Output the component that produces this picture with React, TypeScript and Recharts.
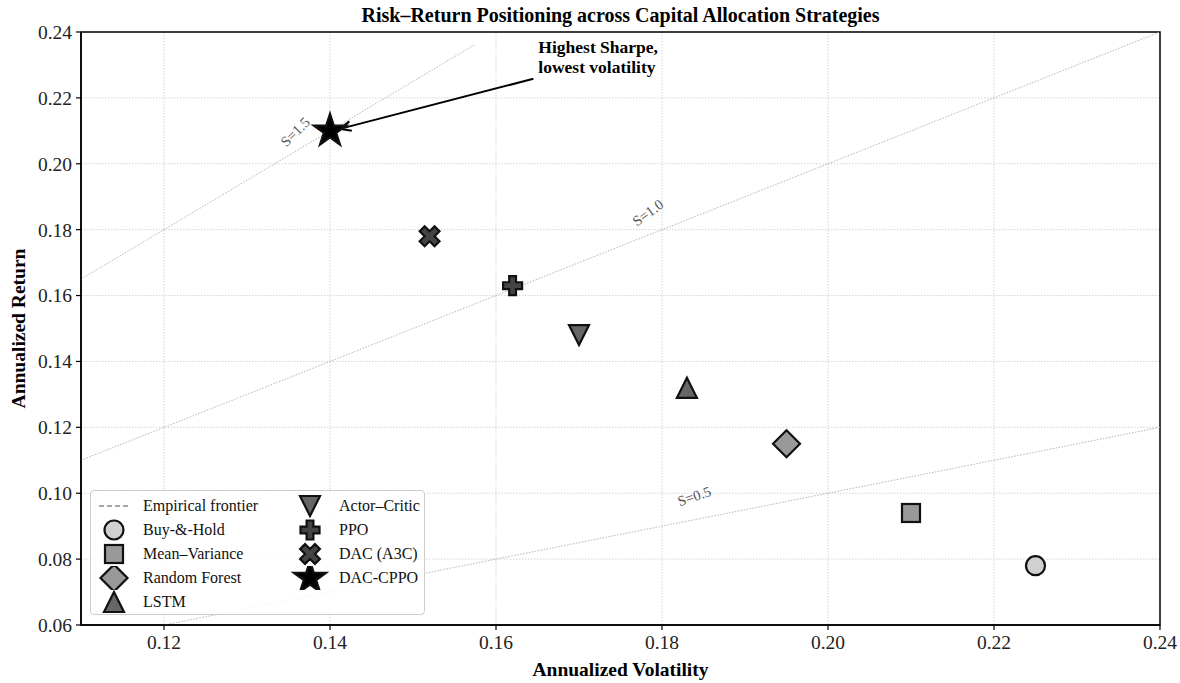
import React from 'react';
import {
  ScatterChart,
  Scatter,
  XAxis,
  YAxis,
  CartesianGrid,
  ReferenceLine,
  ReferenceArea,
} from 'recharts';

// strategies, plotted left-to-right from high return to low
const strategies = ['Buy-&-Hold', 'Mean–Variance', 'Random Forest', 'LSTM', 'Actor–Critic', 'PPO', 'DAC (A3C)', 'DAC-CPPO'];
const volatility = [0.225, 0.21, 0.195, 0.183, 0.17, 0.162, 0.152, 0.14];
const annualReturn = [0.078, 0.094, 0.115, 0.132, 0.148, 0.163, 0.178, 0.21];

// iso-Sharpe lines y = S * x
const sharpeLevels = [0.5, 1.0, 1.5];
const sharpeFrom = [0.12, 0.11, 0.11];
const sharpeTo = [0.24, 0.24, 0.1575];
const sharpeLabelX = [0.1839, 0.1783, 0.1358];
const sharpeLabelY = [0.0991, 0.1852, 0.2097];

// annotation: arrow from text to best strategy
const annotationFrom = { x: 0.1645, y: 0.2258 };
const annotationTo = { x: 0.1412, y: 0.2106 };
const annotationText = ['Highest Sharpe,', 'lowest volatility'];

const xTicks = [0.12, 0.14, 0.16, 0.18, 0.2, 0.22, 0.24];
const yTicks = [0.06, 0.08, 0.1, 0.12, 0.14, 0.16, 0.18, 0.2, 0.22, 0.24];

const FONT = '"Liberation Serif", "Times New Roman", serif';
const EDGE = '#111';

type Kind = 'circle' | 'square' | 'diamond' | 'triUp' | 'triDown' | 'plus' | 'cross' | 'star';

const markerKind: Record<string, Kind> = {
  'Buy-&-Hold': 'circle',
  'Mean–Variance': 'square',
  'Random Forest': 'diamond',
  LSTM: 'triUp',
  'Actor–Critic': 'triDown',
  PPO: 'plus',
  'DAC (A3C)': 'cross',
  'DAC-CPPO': 'star',
};

const markerFill: Record<string, string> = {
  'Buy-&-Hold': '#d0d0d0',
  'Mean–Variance': '#999999',
  'Random Forest': '#999999',
  LSTM: '#666666',
  'Actor–Critic': '#666666',
  PPO: '#444444',
  'DAC (A3C)': '#444444',
  'DAC-CPPO': '#000000',
};

function plusPoints(a: number, w: number): number[][] {
  return [
    [-w, -a], [w, -a], [w, -w], [a, -w], [a, w], [w, w],
    [w, a], [-w, a], [-w, w], [-a, w], [-a, -w], [-w, -w],
  ];
}

function Marker({ kind, cx, cy, fill }: { kind: Kind; cx: number; cy: number; fill: string }) {
  const common = { fill, stroke: EDGE, strokeWidth: 2.2, strokeLinejoin: 'miter' as const };
  switch (kind) {
    case 'circle':
      return <circle cx={cx} cy={cy} r={9.5} {...common} />;
    case 'square':
      return <rect x={cx - 9} y={cy - 9} width={18} height={18} {...common} />;
    case 'diamond':
      return <polygon points={`${cx},${cy - 13.5} ${cx + 13.5},${cy} ${cx},${cy + 13.5} ${cx - 13.5},${cy}`} {...common} />;
    case 'triUp':
      return <polygon points={`${cx},${cy - 10} ${cx + 10},${cy + 10} ${cx - 10},${cy + 10}`} {...common} />;
    case 'triDown':
      return <polygon points={`${cx},${cy + 10} ${cx + 10},${cy - 10} ${cx - 10},${cy - 10}`} {...common} />;
    case 'plus': {
      const pts = plusPoints(9.5, 3.4).map(([px, py]) => `${cx + px},${cy + py}`).join(' ');
      return <polygon points={pts} {...common} />;
    }
    case 'cross': {
      const r = Math.SQRT1_2;
      const pts = plusPoints(10.5, 3.5)
        .map(([px, py]) => `${cx + (px - py) * r},${cy + (px + py) * r}`)
        .join(' ');
      return <polygon points={pts} {...common} />;
    }
    case 'star': {
      const R = 17;
      const ri = R * 0.382;
      const pts: string[] = [];
      for (let i = 0; i < 10; i++) {
        const ang = (-90 + i * 36) * (Math.PI / 180);
        const rr = i % 2 === 0 ? R : ri;
        pts.push(`${cx + rr * Math.cos(ang)},${cy + rr * Math.sin(ang)}`);
      }
      return <polygon points={pts.join(' ')} {...common} />;
    }
  }
  return null;
}

const sharpeAngle: Record<number, number> = { 0.5: -19, 1.0: -36, 1.5: -45 };

function SharpeLabel(props: any) {
  const { cx, cy, payload } = props;
  if (cx == null || cy == null) return null;
  const s = payload.s as number;
  return (
    <text
      x={cx}
      y={cy}
      textAnchor="middle"
      dominantBaseline="central"
      fontFamily={FONT}
      fontSize={14.5}
      fill="#555"
      transform={`rotate(${sharpeAngle[s]} ${cx} ${cy})`}
    >
      {`S=${s.toFixed(1)}`}
    </text>
  );
}

function AnnotationArrow(props: any) {
  const { x1, y1, x2, y2 } = props;
  const ang = Math.atan2(y2 - y1, x2 - x1);
  const len = 12;
  const spread = 0.42;
  const ax = x2 - len * Math.cos(ang - spread);
  const ay = y2 - len * Math.sin(ang - spread);
  const bx = x2 - len * Math.cos(ang + spread);
  const by = y2 - len * Math.sin(ang + spread);
  return (
    <g>
      <line x1={x1} y1={y1} x2={x2} y2={y2} stroke="#000" strokeWidth={2} />
      <polyline points={`${ax},${ay} ${x2},${y2} ${bx},${by}`} fill="none" stroke="#000" strokeWidth={2} />
      <text x={x1 + 5} fontFamily={FONT} fontSize={17.5} fontWeight="bold" fill="#000">
        <tspan x={x1 + 5} y={y1 - 26}>{annotationText[0]}</tspan>
        <tspan x={x1 + 5} y={y1 - 6}>{annotationText[1]}</tspan>
      </text>
    </g>
  );
}

function SharpeLine(props: any) {
  const { x1, y1, x2, y2 } = props;
  return <line x1={x1} y1={y1} x2={x2} y2={y2} stroke="#b5b5b5" strokeWidth={1} strokeDasharray="1.5 1.5" />;
}

const legendLeft = ['__frontier', 'Buy-&-Hold', 'Mean–Variance', 'Random Forest', 'LSTM'];
const legendRight = ['Actor–Critic', 'PPO', 'DAC (A3C)', 'DAC-CPPO'];

function LegendRow({ name }: { name: string }) {
  const label = name === '__frontier' ? 'Empirical frontier' : name;
  return (
    <div style={{ display: 'flex', alignItems: 'center', height: 24 }}>
      <svg width={40} height={24} style={{ flex: 'none' }}>
        {name === '__frontier' ? (
          <line x1={6} y1={12} x2={37} y2={12} stroke="#888" strokeWidth={1.6} strokeDasharray="5 3" />
        ) : (
          <Marker kind={markerKind[name]} cx={21} cy={12} fill={markerFill[name]} />
        )}
      </svg>
      <span style={{ marginLeft: 10, whiteSpace: 'nowrap' }}>{label}</span>
    </div>
  );
}

export default function App() {
  const sharpeLabels = sharpeLevels.map((s, i) => ({ x: sharpeLabelX[i], y: sharpeLabelY[i], s }));

  return (
    <div style={{ position: 'absolute', left: 0, top: 0, width: 1180, height: 683, background: '#fff', fontFamily: FONT }}>
      <div
        style={{
          position: 'absolute',
          left: 81,
          width: 1079,
          top: 4,
          textAlign: 'center',
          fontSize: 20,
          fontWeight: 'bold',
          color: '#000',
        }}
      >
        Risk–Return Positioning across Capital Allocation Strategies
      </div>

      <ScatterChart width={1180} height={683} margin={{ top: 32, right: 20, bottom: 0, left: 0 }}>
        <CartesianGrid stroke="#cfcfcf" strokeDasharray="1.5 1.5" strokeWidth={0.9} />
        <XAxis
          type="number"
          dataKey="x"
          domain={[0.11, 0.24]}
          ticks={xTicks}
          allowDataOverflow
          height={58}
          tickSize={5}
          tickMargin={5}
          tickFormatter={(v: number) => v.toFixed(2)}
          tick={{ fontFamily: FONT, fontSize: 19.5, fill: '#222' }}
          axisLine={{ stroke: '#000', strokeWidth: 1.5 }}
          tickLine={{ stroke: '#000', strokeWidth: 1.2 }}
          label={(p: any) => {
            const vb = p.viewBox;
            return (
              <text
                x={vb.x + vb.width / 2}
                y={vb.y + 44}
                textAnchor="middle"
                dominantBaseline="central"
                fontFamily={FONT}
                fontSize={19.5}
                fontWeight="bold"
                fill="#000"
              >
                Annualized Volatility
              </text>
            );
          }}
        />
        <YAxis
          type="number"
          dataKey="y"
          domain={[0.06, 0.24]}
          ticks={yTicks}
          allowDataOverflow
          width={81}
          tickSize={5}
          tickMargin={4}
          tickFormatter={(v: number) => v.toFixed(2)}
          tick={{ fontFamily: FONT, fontSize: 19.5, fill: '#222' }}
          axisLine={{ stroke: '#000', strokeWidth: 1.5 }}
          tickLine={{ stroke: '#000', strokeWidth: 1.2 }}
          label={(p: any) => {
            const vb = p.viewBox;
            const cy = vb.y + vb.height / 2;
            return (
              <text
                x={18}
                y={cy}
                textAnchor="middle"
                dominantBaseline="central"
                fontFamily={FONT}
                fontSize={19.5}
                fontWeight="bold"
                fill="#000"
                transform={`rotate(-90 18 ${cy})`}
              >
                Annualized Return
              </text>
            );
          }}
        />

        {sharpeLevels.map((s, i) => (
          <ReferenceLine
            key={`sharpe-${s}`}
            segment={[
              { x: sharpeFrom[i], y: s * sharpeFrom[i] },
              { x: sharpeTo[i], y: s * sharpeTo[i] },
            ]}
            ifOverflow="visible"
            shape={SharpeLine}
          />
        ))}

        <Scatter data={sharpeLabels} isAnimationActive={false} shape={SharpeLabel} />

        <ReferenceArea
          x1={0.11}
          x2={0.24}
          y1={0.06}
          y2={0.24}
          fill="none"
          fillOpacity={0}
          stroke="#000"
          strokeWidth={1.5}
          ifOverflow="visible"
        />

        {strategies.map((name, i) => (
          <Scatter
            key={name}
            name={name}
            data={[{ x: volatility[i], y: annualReturn[i] }]}
            isAnimationActive={false}
            shape={(p: any) => <Marker kind={markerKind[name]} cx={p.cx} cy={p.cy} fill={markerFill[name]} />}
          />
        ))}

        <ReferenceLine
          segment={[annotationFrom, annotationTo]}
          ifOverflow="visible"
          shape={AnnotationArrow}
        />
      </ScatterChart>

      <div
        style={{
          position: 'absolute',
          left: 90,
          top: 490,
          width: 335,
          height: 125,
          boxSizing: 'border-box',
          border: '1px solid #cccccc',
          borderRadius: 4,
          background: 'rgba(255,255,255,0.85)',
          fontSize: 16,
          color: '#111',
          display: 'flex',
          padding: '3px 0 0 2px',
        }}
      >
        <div style={{ width: 196 }}>
          {legendLeft.map((n) => (
            <LegendRow key={n} name={n} />
          ))}
        </div>
        <div>
          {legendRight.map((n) => (
            <LegendRow key={n} name={n} />
          ))}
        </div>
      </div>
    </div>
  );
}
